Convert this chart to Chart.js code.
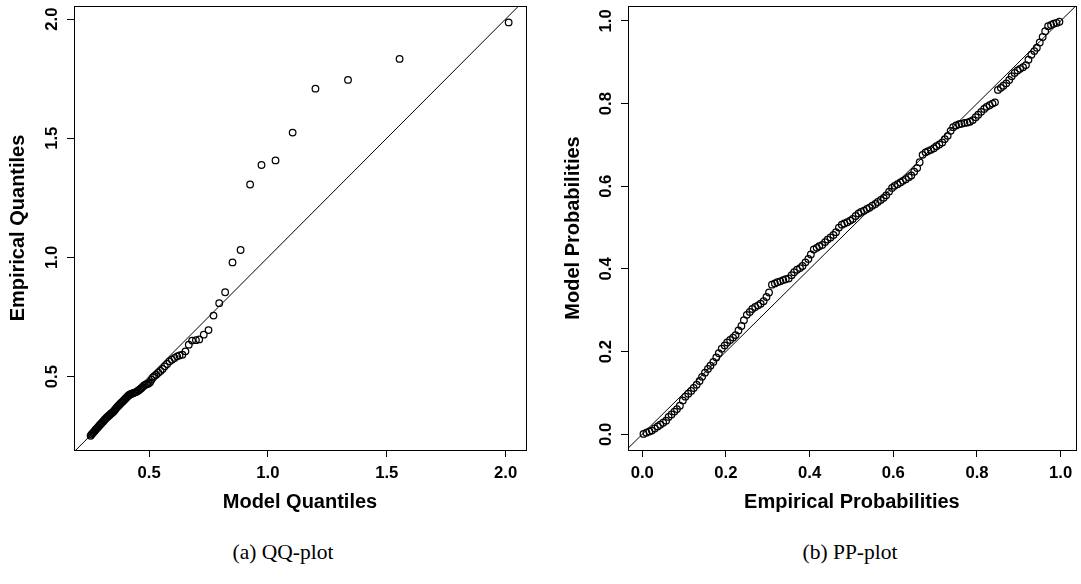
<!DOCTYPE html>
<html>
<head>
<meta charset="utf-8">
<script src="https://cdn.jsdelivr.net/npm/chart.js@4"></script>
<style>
  body { margin: 0; background: #fff; width: 1081px; height: 584px; position: relative; overflow: hidden; }
  #qq-plot { position: absolute; left: 0; top: 0; }
  #pp-plot { position: absolute; left: 555px; top: 0; }
  .caption { position: absolute; top: 540px; width: 300px; text-align: center;
             font-family: "Liberation Serif", "Times New Roman", serif; font-size: 21.5px; color: #000; }
</style>
</head>
<body>
<canvas id="qq-plot" width="545" height="530"></canvas>
<canvas id="pp-plot" width="526" height="530"></canvas>
<div class="caption" style="left:133px">(a) QQ-plot</div>
<div class="caption" style="left:700px">(b) PP-plot</div>

<script>
// QQ-plot data (sorted model quantiles vs empirical quantiles)
var qqModel = [0.254,0.258,0.262,0.266,0.270,0.274,0.278,0.282,0.286,0.290,0.294,0.298,
  0.302,0.306,0.310,0.314,0.318,0.322,0.326,0.330,0.334,0.338,0.342,0.346,0.350,0.354,0.358,0.362,
  0.366,0.370,0.374,0.378,0.382,0.386,0.390,0.394,0.398,0.402,0.406,0.410,0.414,0.418,0.422,
  0.427,0.432,0.437,0.442,0.447,0.452,0.457,0.462,0.467,0.472,0.477,0.482,0.487,0.492,
  0.498,0.504,0.510,0.516,0.522,
  0.530,0.539,0.548,0.557,0.566,
  0.576,0.586,0.596,0.607,0.618,0.628,
  0.640,0.653,0.667,0.681,0.697,0.711,0.730,0.750,0.771,0.795,0.820,
  0.851,0.885,0.925,0.973,1.032,1.104,1.200,1.337,1.554,2.013];
var qqEmpirical = [0.252,0.257,0.262,0.266,0.271,0.276,0.280,0.285,0.289,0.294,0.298,0.302,
  0.307,0.311,0.316,0.320,0.324,0.329,0.332,0.336,0.339,0.343,0.346,0.350,0.353,0.358,0.363,0.368,
  0.373,0.377,0.381,0.385,0.389,0.393,0.397,0.401,0.405,0.409,0.413,0.418,0.421,0.424,0.426,
  0.428,0.430,0.432,0.434,0.436,0.440,0.443,0.447,0.451,0.456,0.461,0.465,0.467,0.469,
  0.471,0.476,0.487,0.496,0.502,
  0.508,0.516,0.524,0.532,0.543,
  0.553,0.564,0.571,0.578,0.585,0.589,
  0.592,0.606,0.634,0.651,0.653,0.656,0.676,0.695,0.756,0.808,0.854,
  0.979,1.031,1.306,1.388,1.407,1.524,1.708,1.745,1.833,1.986];
var qqTicks = [0.5, 1.0, 1.5, 2.0];

// PP-plot data (empirical vs model probabilities)
var ppEmpirical = [0.003,0.010,0.017,0.023,0.030,0.037,0.043,0.050,0.057,0.063,
  0.070,0.077,0.083,0.090,0.097,0.103,0.110,0.117,0.123,0.130,
  0.137,0.143,0.150,0.157,0.163,0.170,0.177,0.183,0.190,0.197,
  0.203,0.210,0.217,0.223,0.230,0.237,0.243,0.250,0.257,0.263,
  0.270,0.277,0.283,0.290,0.297,0.303,0.310,0.317,0.323,0.330,
  0.337,0.343,0.350,0.357,0.363,0.370,0.377,0.383,0.390,0.397,
  0.403,0.410,0.417,0.423,0.430,0.437,0.443,0.450,0.457,0.463,
  0.470,0.477,0.483,0.490,0.497,0.503,0.510,0.517,0.523,0.530,
  0.537,0.543,0.550,0.557,0.563,0.570,0.577,0.583,0.590,0.597,
  0.603,0.610,0.617,0.623,0.630,0.637,0.643,0.650,0.657,0.663,
  0.670,0.677,0.683,0.690,0.697,0.703,0.710,0.717,0.723,0.730,
  0.737,0.743,0.750,0.757,0.763,0.770,0.777,0.783,0.790,0.797,
  0.803,0.810,0.817,0.823,0.830,0.837,0.843,0.850,0.857,0.863,
  0.870,0.877,0.883,0.890,0.897,0.903,0.910,0.917,0.923,0.930,
  0.937,0.943,0.950,0.957,0.963,0.970,0.977,0.983,0.990,0.997];
var ppModel = [0.001,0.004,0.007,0.009,0.014,0.019,0.023,0.028,0.033,0.042,
  0.048,0.055,0.061,0.069,0.082,0.091,0.098,0.105,0.112,0.120,
  0.129,0.139,0.149,0.158,0.166,0.175,0.186,0.196,0.207,0.215,
  0.222,0.228,0.234,0.240,0.251,0.262,0.276,0.289,0.296,0.303,
  0.308,0.312,0.316,0.322,0.332,0.343,0.362,0.365,0.368,0.370,
  0.373,0.375,0.377,0.385,0.392,0.398,0.402,0.407,0.416,0.424,
  0.435,0.447,0.451,0.455,0.458,0.465,0.471,0.476,0.482,0.489,
  0.500,0.507,0.510,0.513,0.517,0.521,0.528,0.534,0.538,0.541,
  0.545,0.548,0.553,0.557,0.562,0.567,0.572,0.578,0.587,0.596,
  0.601,0.605,0.609,0.613,0.617,0.622,0.626,0.635,0.644,0.658,
  0.676,0.682,0.685,0.688,0.692,0.697,0.701,0.706,0.714,0.722,
  0.734,0.743,0.747,0.750,0.751,0.753,0.754,0.756,0.760,0.767,
  0.773,0.780,0.787,0.792,0.796,0.800,0.803,0.833,0.838,0.843,
  0.849,0.857,0.866,0.874,0.880,0.884,0.888,0.893,0.906,0.918,
  0.927,0.935,0.948,0.961,0.975,0.987,0.990,0.993,0.995,0.998];
var ppTicks = [0.0, 0.2, 0.4, 0.6, 0.8, 1.0];

// y = x reference line ends (clipped to the plot box)
var diagonal = [-1, 3];

var fontFamily = "'Liberation Sans', Arial, Helvetica, sans-serif";

// full box round the plot region, like R's box()
var boxPlugin = {
  id: 'box',
  afterDraw: function(chart) {
    var a = chart.chartArea;
    var c = chart.ctx;
    c.save();
    c.strokeStyle = '#000';
    c.lineWidth = 1;
    c.strokeRect(Math.round(a.left) + 0.5, Math.round(a.top) + 0.5,
                 Math.round(a.right - a.left), Math.round(a.bottom - a.top));
    c.restore();
  }
};

function axis(pos, min, max, ticks, title, size) {
  var left = pos === 'left';
  return {
    type: 'linear',
    position: pos,
    min: min,
    max: max,
    afterBuildTicks: function(s) {
      s.ticks = ticks.map(function(v) { return { value: v }; });
    },
    afterFit: function(s) {
      if (left) s.width = size; else s.height = size;
      // no extra room for the end labels, the box stays where R put it
      s.paddingTop = 0; s.paddingBottom = 0;
      s.paddingLeft = 0; s.paddingRight = 0;
    },
    grid: { display: true, drawOnChartArea: false, drawTicks: true, tickLength: 7, color: '#000', lineWidth: 1 },
    border: { display: false },
    ticks: {
      autoSkip: false,
      color: '#000',
      padding: left ? 3 : 6,
      minRotation: left ? 90 : 0,
      maxRotation: left ? 90 : 0,
      crossAlign: left ? 'center' : 'near',
      font: { family: fontFamily, size: 16.7, weight: 'bold' },
      callback: function(v) { return Number(v).toFixed(1); }
    },
    title: {
      display: true,
      text: title,
      color: '#000',
      font: { family: fontFamily, size: 20, weight: 'bold' },
      padding: left ? { top: 6, bottom: 0 } : { top: 0, bottom: 16 }
    }
  };
}

function points(xs, ys) {
  return xs.map(function(x, i) { return { x: x, y: ys[i] }; });
}

// QQ-plot
var ctx = document.getElementById('qq-plot').getContext('2d');
var chart = new Chart(ctx, {
  type: 'scatter',
  data: {
    datasets: [{
      data: points(qqModel, qqEmpirical),
      pointStyle: 'circle',
      pointRadius: 3.3,
      borderColor: '#000',
      backgroundColor: 'rgba(0,0,0,0)',
      borderWidth: 1.25
    },
    {
      data: points(diagonal, diagonal),
      showLine: true,
      pointRadius: 0,
      borderColor: '#000',
      borderWidth: 1
    }]
  },
  options: {
    responsive: false,
    animation: false,
    layout: { padding: { top: 6, right: 19, left: 0, bottom: 0 } },
    plugins: { legend: { display: false }, tooltip: { enabled: false } },
    scales: {
      x: axis('bottom', 0.184, 2.086, qqTicks, 'Model Quantiles', 80),
      y: axis('left', 0.192, 2.055, qqTicks, 'Empirical Quantiles', 74)
    }
  },
  plugins: [boxPlugin]
});

// PP-plot
var ctx = document.getElementById('pp-plot').getContext('2d');
var chart = new Chart(ctx, {
  type: 'scatter',
  data: {
    datasets: [{
      data: points(ppEmpirical, ppModel),
      pointStyle: 'circle',
      pointRadius: 3.3,
      borderColor: '#000',
      backgroundColor: 'rgba(0,0,0,0)',
      borderWidth: 1.25
    },
    {
      data: points(diagonal, diagonal),
      showLine: true,
      pointRadius: 0,
      borderColor: '#000',
      borderWidth: 1
    }]
  },
  options: {
    responsive: false,
    animation: false,
    layout: { padding: { top: 6, right: 2, left: 0, bottom: 0 } },
    plugins: { legend: { display: false }, tooltip: { enabled: false } },
    scales: {
      x: axis('bottom', -0.034, 1.036, ppTicks, 'Empirical Probabilities', 80),
      y: axis('left', -0.038, 1.036, ppTicks, 'Model Probabilities', 73)
    }
  },
  plugins: [boxPlugin]
});
</script>
</body>
</html>
